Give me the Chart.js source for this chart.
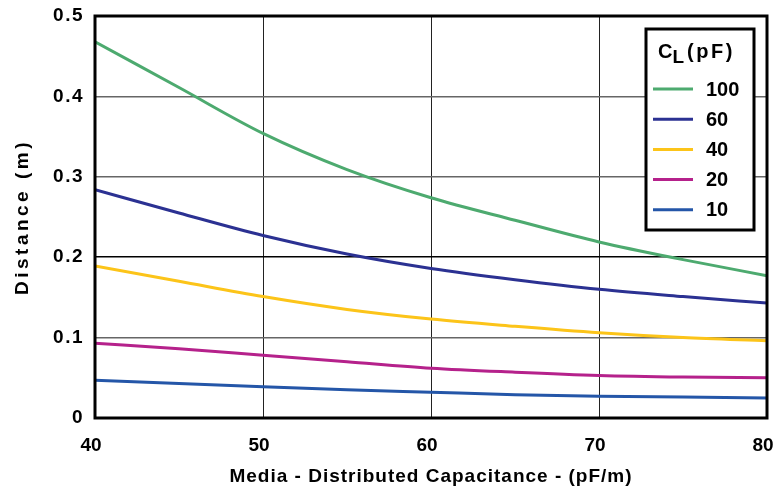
<!DOCTYPE html>
<html>
<head>
<meta charset="utf-8">
<script src="https://cdn.jsdelivr.net/npm/chart.js@4.4.1/dist/chart.umd.min.js"></script>
<style>
html,body{margin:0;padding:0;background:#fff;}
#wrap{width:776px;height:493px;}
</style>
</head>
<body>
<div id="wrap"><canvas id="c" width="776" height="493"></canvas></div>
<script>
const capacitance = [40, 45, 50, 55, 60, 65, 70, 75, 80];
const cl100 = [0.468, 0.411, 0.354, 0.309, 0.274, 0.246, 0.219, 0.197, 0.177];
const cl60  = [0.284, 0.255, 0.227, 0.204, 0.186, 0.172, 0.160, 0.151, 0.143];
const cl40  = [0.189, 0.170, 0.151, 0.135, 0.123, 0.114, 0.106, 0.100, 0.096];
const cl20  = [0.093, 0.086, 0.078, 0.070, 0.062, 0.057, 0.053, 0.051, 0.050];
const cl10  = [0.047, 0.043, 0.039, 0.035, 0.032, 0.029, 0.027, 0.026, 0.025];
const seriesLabels = ['100', '60', '40', '20', '10'];
const seriesColors = ['#4daa6f', '#2b3192', '#fcc419', '#b5218b', '#2456a8'];
const yTickLabels = ['0', '0.1', '0.2', '0.3', '0.4', '0.5'];
const xTickLabels = ['40', '50', '60', '70', '80'];

const allSeries = [cl100, cl60, cl40, cl20, cl10];
const FONT = "'Liberation Sans', Arial, sans-serif";

const datasets = allSeries.map((s, i) => ({
  label: seriesLabels[i],
  data: capacitance.map((x, j) => ({x: x, y: s[j]})),
  borderColor: seriesColors[i],
  backgroundColor: seriesColors[i],
  borderWidth: 3,
  pointRadius: 0,
  tension: 0.4,
  cubicInterpolationMode: 'monotone',
  fill: false
}));

function withSpacing(scale, method, spacing) {
  const key = '__patched_' + method;
  if (scale[key]) return;
  const orig = scale[method];
  scale[method] = function () {
    const ctx = this.ctx;
    const prev = ctx.letterSpacing;
    ctx.letterSpacing = spacing;
    orig.apply(this, arguments);
    ctx.letterSpacing = prev || '0px';
  };
  scale[key] = true;
}

const spacingPlugin = {
  id: 'spacing',
  beforeDraw(chart) {
    withSpacing(chart.scales.y, 'drawTitle', '3.5px');
    withSpacing(chart.scales.y, 'drawLabels', '1.5px');
    withSpacing(chart.scales.x, 'drawTitle', '1px');
  }
};

const frame = {
  id: 'frame',
  afterDatasetsDraw(chart) {
    const {ctx, chartArea: a} = chart;
    ctx.save();
    ctx.strokeStyle = '#000';
    ctx.lineWidth = 3;
    ctx.strokeRect(a.left, a.top, a.right - a.left, a.bottom - a.top);
    ctx.restore();
  }
};

const customLegend = {
  id: 'customLegend',
  afterDraw(chart) {
    const ctx = chart.ctx;
    const bx = 646, by = 29, bw = 108, bh = 201;
    ctx.save();
    ctx.fillStyle = '#fff';
    ctx.fillRect(bx, by, bw, bh);
    ctx.strokeStyle = '#000';
    ctx.lineWidth = 3;
    ctx.strokeRect(bx, by, bw, bh);
    ctx.fillStyle = '#000';
    ctx.textBaseline = 'alphabetic';
    ctx.textAlign = 'left';
    ctx.font = "bold 20px " + FONT;
    let tx = 658, ty = 58;
    ctx.fillText('C', tx, ty);
    tx += ctx.measureText('C').width;
    ctx.font = "bold 19px " + FONT;
    ctx.fillText('L', tx, ty + 5);
    tx += ctx.measureText('L').width + 3;
    ctx.font = "bold 20px " + FONT;
    ctx.letterSpacing = '2.5px';
    ctx.fillText('(pF)', tx, ty);
    ctx.letterSpacing = '0px';
    chart.data.datasets.forEach((ds, i) => {
      const y = 89 + i * 30.2;
      ctx.strokeStyle = ds.borderColor;
      ctx.lineWidth = 3;
      ctx.beginPath();
      ctx.moveTo(653, y);
      ctx.lineTo(693, y);
      ctx.stroke();
      ctx.fillStyle = '#000';
      ctx.font = "bold 20px " + FONT;
      ctx.textBaseline = 'middle';
      ctx.fillText(ds.label, 706, y + 1);
    });
    ctx.restore();
  }
};

new Chart(document.getElementById('c'), {
  type: 'line',
  data: {datasets: datasets},
  plugins: [spacingPlugin, frame, customLegend],
  options: {
    responsive: false,
    animation: false,
    devicePixelRatio: 1,
    layout: {padding: {left: 0, right: 9, top: 16, bottom: 0}},
    plugins: {legend: {display: false}, tooltip: {enabled: false}},
    scales: {
      x: {
        type: 'linear',
        min: 40, max: 80,
        afterFit(s) { s.height = 75; s.paddingLeft = 0; s.paddingRight = 0; },
        ticks: {
          stepSize: 10,
          padding: 16,
          labelOffset: -4,
          color: '#000',
          font: {family: FONT, size: 19, weight: 'bold'},
          maxRotation: 0,
          callback: (v) => xTickLabels[(v - 40) / 10]
        },
        grid: {color: '#222', lineWidth: 1, drawTicks: false},
        border: {display: false},
        title: {
          display: true,
          text: 'Media - Distributed Capacitance - (pF/m)',
          color: '#000',
          font: {family: FONT, size: 19, weight: 'bold'},
          padding: {top: 0, bottom: 5}
        }
      },
      y: {
        min: 0, max: 0.5,
        afterFit(s) { s.width = 95; s.paddingTop = 0; s.paddingBottom = 0; },
        ticks: {
          stepSize: 0.1,
          padding: 11,
          color: '#000',
          font: {family: FONT, size: 19, weight: 'bold'},
          callback: (v) => yTickLabels[Math.round(v * 10)]
        },
        grid: {
          color: (c) => (Math.abs(c.tick.value - 0.2) < 1e-6 ? '#000' : '#666'),
          lineWidth: 1.5,
          drawTicks: false
        },
        border: {display: false},
        title: {
          display: true,
          text: 'Distance (m)',
          color: '#000',
          font: {family: FONT, size: 19, weight: 'bold'},
          padding: {top: 11, bottom: 0}
        }
      }
    }
  }
});
</script>
</body>
</html>
